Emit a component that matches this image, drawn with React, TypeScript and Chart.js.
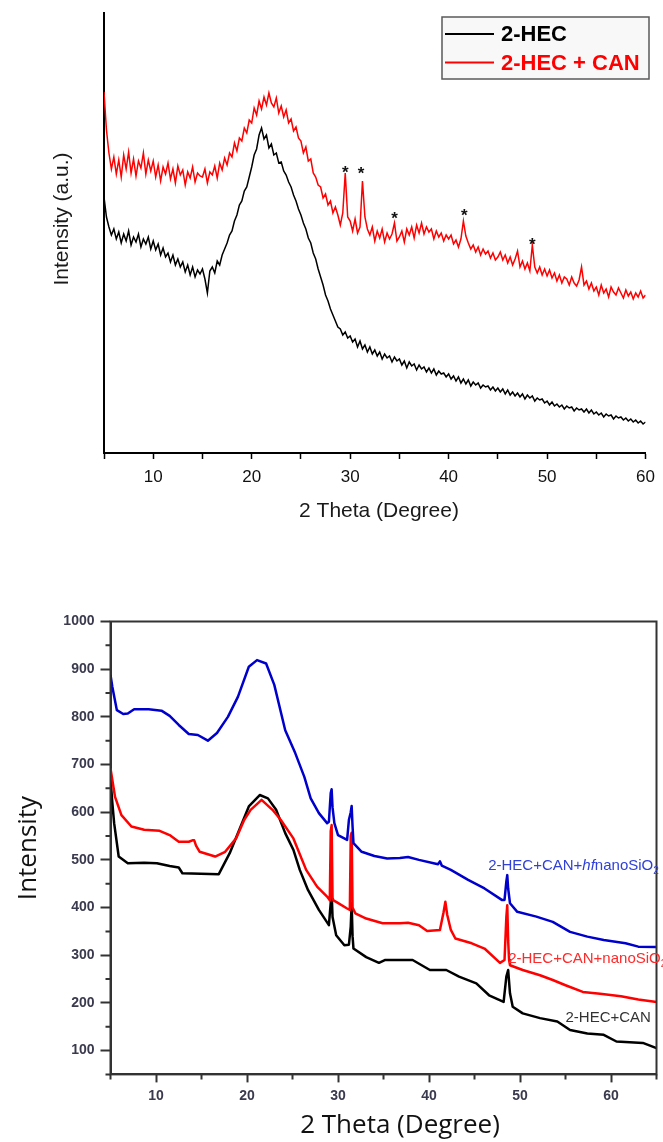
import React, { useEffect, useRef } from 'react';
import { Chart, registerables } from 'chart.js';

Chart.register(...registerables);

// ================= TOP CHART (XRD, 2θ 5°–60°, sampled every 0.25°) =================
const topAngleStart = 5;
const topAngleStep = 0.25;
const topSeriesNames = ['2-HEC', '2-HEC + CAN'];

// 2-HEC (black)
const hecIntensity = [
  256, 236, 226, 218, 224, 214, 221, 210, 219, 212, 222, 208, 216, 211, 219, 206, 214, 209, 216, 204,
  212, 203, 209, 198, 205, 196, 200, 191, 198, 188, 194, 186, 191, 181, 188, 178, 186, 176, 183, 179,
  184, 174, 160, 182, 186, 180, 192, 188, 198, 204, 210, 218, 222, 232, 238, 248, 252, 262, 266, 276,
  286, 298, 304, 318, 325, 314, 318, 305, 309, 298, 300, 290, 291, 282, 278, 271, 266, 258, 252, 244,
  238, 230, 224, 215, 210, 200, 194, 184, 176, 168, 158, 152, 144, 138, 132, 126, 124, 118, 121, 115,
  117, 111, 114, 106, 112, 104, 108, 101, 106, 99, 103, 97, 101, 94, 99, 95, 97, 91, 96, 92,
  94, 88, 92, 85, 91, 87, 89, 83, 88, 84, 86, 81, 85, 80, 84, 78, 82, 79, 80, 76,
  79, 74, 77, 72, 76, 70, 74, 69, 73, 67, 71, 68, 70, 65, 68, 66, 67, 63, 66, 62,
  65, 61, 64, 59, 63, 58, 61, 57, 60, 56, 59, 54, 58, 55, 57, 52, 55, 53, 54, 50,
  52, 48, 51, 47, 49, 46, 48, 44, 47, 45, 46, 42, 45, 43, 44, 41, 44, 40, 43, 39,
  41, 38, 40, 36, 39, 37, 38, 34, 37, 35, 36, 33, 35, 32, 34, 31, 33, 30, 32, 29,
  31,
];

// 2-HEC + CAN (red)
const hecCanIntensity = [
  361, 323, 300, 284, 296, 279, 293, 276, 298, 284, 301, 280, 294, 277, 292, 285, 300, 279, 293, 282,
  292, 276, 288, 272, 286, 279, 290, 274, 284, 270, 287, 278, 283, 268, 281, 275, 286, 271, 280, 277,
  276, 284, 270, 281, 278, 287, 275, 290, 283, 295, 288, 300, 296, 310, 302, 315, 312, 325, 320, 333,
  330, 345, 338, 352, 344, 356, 348, 360, 350, 346, 355, 340, 347, 336, 343, 330, 334, 322, 326, 315,
  312, 300, 306, 292, 294, 280, 276, 268, 266, 255, 259, 248, 252, 240, 246, 238, 228, 240, 280, 236,
  232, 222, 234, 220, 226, 272, 236, 224, 218, 226, 212, 222, 215, 224, 211, 220, 214, 219, 230, 212,
  216, 222, 211, 224, 218, 226, 215, 228, 220, 230, 219, 226, 221, 224, 214, 222, 216, 220, 212, 218,
  214, 218, 209, 213, 206, 214, 232, 217, 210, 204, 208, 201, 206, 198, 204, 199, 202, 195, 200, 193,
  196, 201, 193, 198, 190, 196, 188, 194, 202, 186, 192, 184, 190, 182, 208, 186, 180, 186, 178, 184,
  177, 183, 175, 180, 172, 178, 170, 176, 174, 168, 176, 170, 167, 173, 186, 168, 172, 164, 170, 162,
  166, 158, 168, 160, 164, 156, 166, 161, 158, 165, 160, 155, 163, 157, 161, 154, 160, 156, 162, 155,
  158,
];

const topTickValues = [5, 10, 15, 20, 25, 30, 35, 40, 45, 50, 55, 60];
const starAngles = [29.5, 31.1, 34.5, 41.6, 48.5];
const starLevels = [284, 283, 238, 241, 212];

// ================= BOTTOM CHART =================
// 2-HEC+CAN+hf nanoSiO2 (blue)
const hfAngles = [
  5.0, 5.2, 5.7, 6.4, 6.9, 7.6, 9.2, 10.6, 11.5, 12.5,
  13.6, 14.6, 15.7, 16.7, 17.9, 19.0, 20.2, 21.1, 22.1, 23.0,
  24.2, 25.3, 26.3, 27.0, 27.9, 28.8, 29.0, 29.2, 29.3, 29.4,
  29.6, 30.0, 31.0, 31.2, 31.4, 31.5, 31.6, 31.7, 32.6, 34.0,
  35.4, 36.8, 37.7, 38.9, 40.5, 41.0, 41.2, 41.4, 42.4, 44.3,
  46.1, 48.0, 48.3, 48.5, 48.6, 48.7, 48.9, 49.7, 51.8, 53.6,
  55.5, 57.4, 59.2, 61.6, 63.0, 65.0,
];
const hfValues = [
  888, 863, 814, 806, 807, 816, 816, 813, 802, 783,
  764, 762, 750, 766, 800, 842, 905, 919, 912, 867,
  772, 724, 674, 629, 598, 577, 580, 640, 648, 610,
  577, 552, 542, 584, 600, 613, 570, 535, 517, 508,
  503, 504, 506, 500, 493, 491, 497, 488, 479, 458,
  440, 416, 416, 455, 468, 440, 409, 391, 381, 370,
  349, 339, 332, 325, 318, 317,
];

// 2-HEC+CAN+nanoSiO2 (red)
const nanoAngles = [
  5.0, 5.5, 6.2, 7.3, 8.7, 10.4, 11.5, 12.5, 13.6, 14.0,
  14.2, 14.4, 14.8, 16.5, 17.6, 18.8, 19.7, 20.4, 21.6, 22.8,
  23.7, 25.1, 26.5, 27.7, 28.8, 29.1, 29.2, 29.3, 29.4, 29.5,
  29.8, 31.0, 31.3, 31.4, 31.5, 31.6, 31.9, 33.1, 34.9, 36.8,
  37.7, 38.9, 39.8, 41.2, 41.6, 41.8, 42.0, 42.4, 42.9, 44.7,
  46.1, 47.8, 48.3, 48.5, 48.6, 48.7, 48.8, 48.9, 50.3, 52.2,
  53.6, 55.0, 56.9, 58.8, 61.1, 63.0, 65.0,
];
const nanoValues = [
  692, 632, 594, 570, 563, 561, 552, 538, 538, 541,
  541, 530, 517, 507, 517, 545, 584, 605, 626, 605,
  584, 545, 479, 444, 423, 415, 560, 573, 420, 415,
  412, 398, 395, 550, 557, 400, 388, 377, 367, 367,
  368, 363, 351, 353, 390, 412, 385, 353, 335, 325,
  314, 284, 290, 380, 405, 330, 290, 279, 269, 258,
  248, 237, 223, 219, 214, 207, 202,
];

// 2-HEC+CAN (black)
const canAngles = [
  5.0, 5.2, 5.4, 5.9, 6.9, 8.7, 10.1, 11.5, 12.5, 12.9,
  16.9, 18.1, 19.3, 20.2, 21.4, 22.3, 23.2, 24.2, 25.1, 25.8,
  26.7, 27.9, 29.0, 29.2, 29.3, 29.4, 29.8, 30.7, 31.2, 31.4,
  31.5, 31.6, 31.7, 33.1, 34.5, 35.2, 38.2, 40.1, 41.9, 43.3,
  45.2, 46.6, 48.2, 48.5, 48.7, 48.9, 49.2, 50.3, 52.2, 54.1,
  55.5, 57.4, 59.2, 60.6, 63.5, 65.0,
];
const canValues = [
  671, 620, 577, 507, 493, 494, 493, 487, 484, 472,
  470, 514, 570, 612, 636, 629, 605, 556, 521, 479,
  437, 395, 363, 410, 433, 380, 342, 321, 322, 360,
  409, 340, 314, 296, 284, 290, 290, 269, 269, 255,
  241, 216, 202, 255, 269, 220, 192, 178, 168, 161,
  143, 136, 133, 119, 116, 105,
];

const bottomXTicks = [10, 20, 30, 40, 50, 60];
const bottomXMinor = [5, 15, 25, 35, 45, 55, 65];
const bottomYTicks = [100, 200, 300, 400, 500, 600, 700, 800, 900, 1000];
const bottomYMinor = [50, 150, 250, 350, 450, 550, 650, 750, 850, 950];

const annotationAngles = [46.5, 48.7, 55.0];
const annotationLevels = [487, 292, 168];
const annotationColors = ['#3040d8', '#ff2a2a', '#333333'];
// segments: [text, style] ; style: n = normal, i = italic, s = subscript
const annotationTexts: [string, string][][] = [
  [['2-HEC+CAN+', 'n'], ['hf', 'i'], ['nanoSiO', 'n'], ['2', 's']],
  [['2-HEC+CAN+nanoSiO', 'n'], ['2', 's']],
  [['2-HEC+CAN', 'n']],
];

const SANS = '"Liberation Sans", Arial, sans-serif';

function pts(xs: number[], ys: number[]) {
  return ys.map((y, i) => ({ x: xs[i], y }));
}
function gridPts(start: number, step: number, ys: number[]) {
  return ys.map((y, i) => ({ x: start + i * step, y }));
}

function titlesPlugin(id: string, titles: any[]) {
  return {
    id,
    afterDraw(chart: any) {
      const ctx = chart.ctx;
      titles.forEach((t) => {
        ctx.save();
        ctx.translate(t.x, t.y);
        ctx.rotate(t.rotation || 0);
        ctx.font = t.font;
        ctx.fillStyle = t.color;
        ctx.textAlign = 'center';
        ctx.textBaseline = 'middle';
        ctx.fillText(t.text, 0, 0);
        ctx.restore();
      });
    },
  };
}

const topLegendPlugin = {
  id: 'topLegendBox',
  afterDraw(chart: any) {
    const ctx = chart.ctx;
    ctx.save();
    ctx.fillStyle = '#f8f8f8';
    ctx.fillRect(442, 17, 207, 62);
    ctx.strokeStyle = '#5a5a5a';
    ctx.lineWidth = 1.5;
    ctx.strokeRect(442, 17, 207, 62);
    chart.data.datasets.forEach((ds: any, i: number) => {
      const cy = 34 + i * 28.5;
      ctx.strokeStyle = ds.borderColor;
      ctx.lineWidth = 2;
      ctx.beginPath();
      ctx.moveTo(445, cy);
      ctx.lineTo(494, cy);
      ctx.stroke();
      ctx.fillStyle = ds.borderColor;
      ctx.font = 'bold 22px ' + SANS;
      ctx.textAlign = 'left';
      ctx.textBaseline = 'middle';
      ctx.fillText(ds.label, 501, cy + 1);
    });
    ctx.restore();
  },
};

const starsPlugin = {
  id: 'peakStars',
  afterDatasetsDraw(chart: any) {
    const ctx = chart.ctx;
    const xs = chart.scales.x;
    const ys = chart.scales.y;
    ctx.save();
    ctx.font = 'bold 17px ' + SANS;
    ctx.fillStyle = '#111';
    ctx.textAlign = 'center';
    ctx.textBaseline = 'alphabetic';
    const m = ctx.measureText('*');
    const shift = (m.actualBoundingBoxAscent - m.actualBoundingBoxDescent) / 2;
    starAngles.forEach((a, i) => {
      const px = xs.getPixelForValue(a);
      const py = ys.getPixelForValue(starLevels[i]);
      ctx.fillText('*', px, py + shift);
    });
    ctx.restore();
  },
};

const bottomDecorPlugin = {
  id: 'bottomDecor',
  afterDraw(chart: any) {
    const ctx = chart.ctx;
    const { left, right, top, bottom } = chart.chartArea;
    const xs = chart.scales.x;
    const ys = chart.scales.y;
    ctx.save();
    ctx.strokeStyle = '#333';
    ctx.lineWidth = 2;
    ctx.strokeRect(left, top, right - left, bottom - top);
    ctx.beginPath();
    bottomYMinor.forEach((v) => {
      const py = ys.getPixelForValue(v);
      ctx.moveTo(left - 5, py);
      ctx.lineTo(left, py);
    });
    bottomXMinor.forEach((v) => {
      const px = xs.getPixelForValue(v);
      ctx.moveTo(px, bottom);
      ctx.lineTo(px, bottom + 5);
    });
    ctx.stroke();

    annotationTexts.forEach((segs, i) => {
      let x = xs.getPixelForValue(annotationAngles[i]);
      const y = ys.getPixelForValue(annotationLevels[i]);
      ctx.fillStyle = annotationColors[i];
      ctx.textAlign = 'left';
      ctx.textBaseline = 'middle';
      segs.forEach(([txt, st]) => {
        if (st === 's') {
          ctx.font = '10px ' + SANS;
          ctx.fillText(txt, x, y + 5);
        } else {
          ctx.font = (st === 'i' ? 'italic ' : '') + '15px ' + SANS;
          ctx.fillText(txt, x, y);
        }
        x += ctx.measureText(txt).width;
      });
    });
    ctx.restore();
  },
};

function topConfig(): any {
  return {
    type: 'line',
    data: {
      datasets: [
        {
          label: topSeriesNames[0],
          data: gridPts(topAngleStart, topAngleStep, hecIntensity),
          borderColor: '#000000',
          borderWidth: 1.5,
          pointRadius: 0,
          tension: 0,
        },
        {
          label: topSeriesNames[1],
          data: gridPts(topAngleStart, topAngleStep, hecCanIntensity),
          borderColor: '#ff0000',
          borderWidth: 1.5,
          pointRadius: 0,
          tension: 0,
        },
      ],
    },
    options: {
      responsive: false,
      animation: false,
      devicePixelRatio: 1,
      layout: { padding: { left: 0, right: 12, top: 13, bottom: 0 } },
      plugins: { legend: { display: false }, tooltip: { enabled: false } },
      scales: {
        x: {
          type: 'linear',
          min: 5,
          max: 60,
          afterBuildTicks: (s: any) => {
            s.ticks = topTickValues.map((v) => ({ value: v }));
          },
          afterFit: (s: any) => {
            s.height = 107;
          },
          ticks: {
            callback: (v: number) => (v % 10 === 0 ? String(v) : ''),
            font: { family: SANS, size: 17 },
            color: '#111',
            padding: 8,
            maxRotation: 0,
            autoSkip: false,
          },
          grid: { drawOnChartArea: false, drawTicks: true, tickLength: 6, tickColor: '#000', tickWidth: 1.5 },
          border: { display: true, color: '#000', width: 2 },
        },
        y: {
          type: 'linear',
          min: 0,
          max: 440,
          afterFit: (s: any) => {
            s.width = 104;
          },
          ticks: { display: false },
          grid: { drawOnChartArea: false, drawTicks: false },
          border: { display: true, color: '#000', width: 2 },
        },
      },
    },
    plugins: [
      starsPlugin,
      topLegendPlugin,
      titlesPlugin('topTitles', [
        { text: 'Intensity (a.u.)', x: 62, y: 219, rotation: -Math.PI / 2, font: '21px ' + SANS, color: '#1a1a1a' },
        { text: '2 Theta (Degree)', x: 379, y: 511, rotation: 0, font: '21px ' + SANS, color: '#1a1a1a' },
      ]),
    ],
  };
}

function bottomConfig(): any {
  const lineDs = (label: string, data: any[], color: string) => ({
    label,
    data,
    borderColor: color,
    borderWidth: 2.5,
    pointRadius: 0,
    tension: 0,
    borderJoinStyle: 'round',
  });
  return {
    type: 'line',
    data: {
      datasets: [
        lineDs('2-HEC+CAN+hfnanoSiO2', pts(hfAngles, hfValues), '#0000cc'),
        lineDs('2-HEC+CAN+nanoSiO2', pts(nanoAngles, nanoValues), '#ff0000'),
        lineDs('2-HEC+CAN', pts(canAngles, canValues), '#000000'),
      ],
    },
    options: {
      responsive: false,
      animation: false,
      devicePixelRatio: 1,
      layout: { padding: { left: 0, right: 6.5, top: 51.5, bottom: 0 } },
      plugins: { legend: { display: false }, tooltip: { enabled: false } },
      scales: {
        x: {
          type: 'linear',
          min: 5,
          max: 65,
          afterBuildTicks: (s: any) => {
            s.ticks = bottomXTicks.map((v) => ({ value: v }));
          },
          afterFit: (s: any) => {
            s.height = 67.6;
          },
          ticks: {
            callback: (v: number) => String(v),
            font: { family: SANS, size: 14, weight: 'bold' },
            color: '#3a3a4e',
            padding: 5,
            maxRotation: 0,
            autoSkip: false,
          },
          grid: { drawOnChartArea: false, drawTicks: true, tickLength: 8, tickColor: '#333', tickWidth: 2 },
          border: { display: true, color: '#333', width: 2 },
        },
        y: {
          type: 'linear',
          min: 50,
          max: 1000,
          afterBuildTicks: (s: any) => {
            s.ticks = bottomYTicks.map((v) => ({ value: v }));
          },
          afterFit: (s: any) => {
            s.width = 110.5;
          },
          ticks: {
            callback: (v: number) => String(v),
            font: { family: SANS, size: 14, weight: 'bold' },
            color: '#3a3a4e',
            padding: 6,
            autoSkip: false,
          },
          grid: { drawOnChartArea: false, drawTicks: true, tickLength: 10, tickColor: '#333', tickWidth: 2 },
          border: { display: true, color: '#333', width: 2 },
        },
      },
    },
    plugins: [
      bottomDecorPlugin,
      titlesPlugin('bottomTitles', [
        { text: 'Intensity', x: 29, y: 278, rotation: -Math.PI / 2, font: '26px "Open Sans", sans-serif', color: '#111' },
        { text: '2 Theta (Degree)', x: 400, y: 556, rotation: 0, font: '26px "Open Sans", sans-serif', color: '#111' },
      ]),
    ],
  };
}

export default function App() {
  const topRef = useRef<HTMLCanvasElement>(null);
  const bottomRef = useRef<HTMLCanvasElement>(null);

  useEffect(() => {
    const top = new Chart(topRef.current as HTMLCanvasElement, topConfig());
    const bottom = new Chart(bottomRef.current as HTMLCanvasElement, bottomConfig());
    return () => {
      top.destroy();
      bottom.destroy();
    };
  }, []);

  return (
    <div style={{ position: 'relative', width: 663, height: 1142, background: '#fff' }}>
      <style>{'body{margin:0;background:#fff;}'}</style>
      <canvas ref={topRef} width={663} height={560} style={{ position: 'absolute', left: 0, top: 0 }} />
      <canvas ref={bottomRef} width={663} height={572} style={{ position: 'absolute', left: 0, top: 570 }} />
    </div>
  );
}
